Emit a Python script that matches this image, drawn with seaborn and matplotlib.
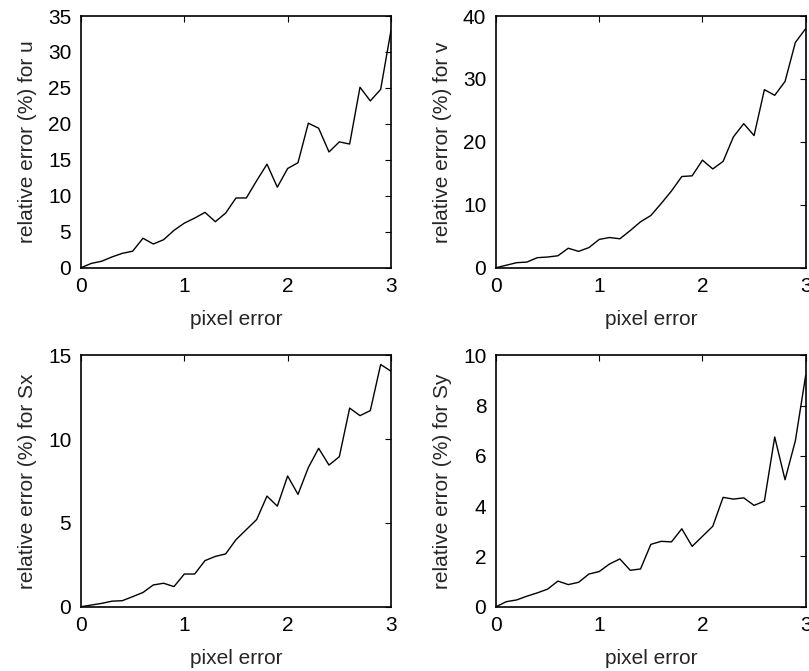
import matplotlib
matplotlib.use("Agg")
import matplotlib.pyplot as plt
import numpy as np
import pandas as pd
import seaborn as sns

# Pixel error levels (0 to 3 in steps of 0.1)
pixel_error = [round(0.1 * i, 1) for i in range(31)]

# Relative error (%) of each estimated parameter
err_u = [0.0, 0.6, 0.9, 1.5, 2.0, 2.3, 4.1, 3.3, 3.9, 5.2, 6.2, 6.9, 7.7, 6.4, 7.6, 9.7,
         9.7, 12.1, 14.4, 11.2, 13.8, 14.6, 20.1, 19.4, 16.1, 17.5, 17.2, 25.1, 23.2, 24.8, 33.0]
err_v = [0.0, 0.4, 0.8, 0.9, 1.6, 1.7, 1.9, 3.1, 2.6, 3.2, 4.5, 4.8, 4.6, 5.9, 7.3, 8.3,
         10.2, 12.2, 14.5, 14.6, 17.1, 15.7, 16.9, 20.8, 22.9, 21.0, 28.3, 27.4, 29.6, 35.8, 38.0]
err_sx = [0.0, 0.1, 0.2, 0.33, 0.36, 0.6, 0.85, 1.3, 1.4, 1.2, 1.95, 1.95, 2.75, 3.0, 3.15, 4.0,
          4.6, 5.2, 6.6, 6.0, 7.8, 6.7, 8.3, 9.45, 8.45, 8.95, 11.85, 11.4, 11.7, 14.45, 14.05]
err_sy = [0.0, 0.2, 0.27, 0.42, 0.55, 0.7, 1.02, 0.88, 0.97, 1.3, 1.4, 1.7, 1.9, 1.45, 1.5, 2.48,
          2.6, 2.58, 3.1, 2.4, 2.8, 3.2, 4.35, 4.28, 4.33, 4.03, 4.2, 6.75, 5.05, 6.6, 9.2]

x_ticks = [0, 1, 2, 3]
panels = [
    ("u", err_u, [0, 5, 10, 15, 20, 25, 30, 35]),
    ("v", err_v, [0, 10, 20, 30, 40]),
    ("Sx", err_sx, [0, 5, 10, 15]),
    ("Sy", err_sy, [0, 2, 4, 6, 8, 10]),
]

sns.set_theme(style="white")
plt.rcParams["font.family"] = ["Liberation Sans", "DejaVu Sans"]
plt.rcParams["font.size"] = 15

fig = plt.figure(figsize=(8.09, 6.71), dpi=100)
positions = [
    [0.1001, 0.601, 0.3832, 0.3751],
    [0.6131, 0.601, 0.3828, 0.3751],
    [0.1001, 0.0958, 0.3832, 0.3747],
    [0.6131, 0.0958, 0.3828, 0.3747],
]

for pos, (name, values, y_ticks) in zip(positions, panels):
    ax = fig.add_axes(pos)
    df = pd.DataFrame({"pixel error": pixel_error, "rel": values})
    sns.lineplot(data=df, x="pixel error", y="rel", ax=ax, color="black", linewidth=1.0)
    ax.set_xlim(x_ticks[0], x_ticks[-1])
    ax.set_ylim(y_ticks[0], y_ticks[-1])
    ax.set_xticks(x_ticks)
    ax.set_yticks(y_ticks)
    ax.set_xlabel("pixel error", fontsize=15, labelpad=10)
    ax.set_ylabel(f"relative error (%) for {name}", fontsize=15, labelpad=8)
    ax.tick_params(direction="in", length=4, width=0.8, top=True, right=True,
                   labelsize=15, colors="black", pad=7)
    for s in ax.spines.values():
        s.set_visible(True)
        s.set_color("black")
        s.set_linewidth(1.2)
    ax.set_facecolor("white")

fig.savefig("out.png", dpi=100, facecolor="white")
